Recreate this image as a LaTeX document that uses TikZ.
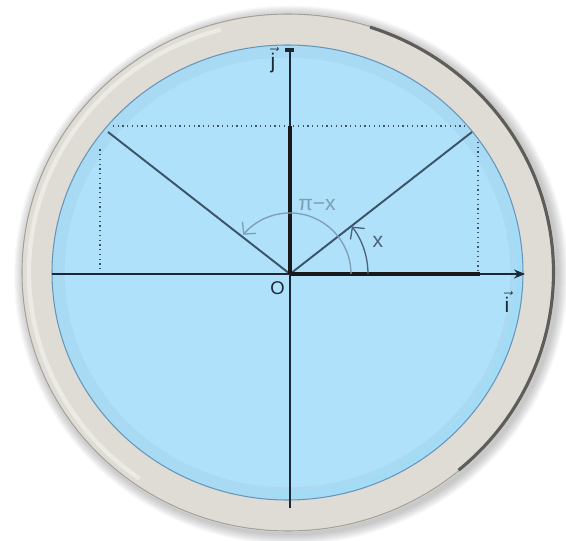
\documentclass[tikz,border=0pt]{standalone}
\usepackage{amsmath}
\usepackage{fontspec}
\setmainfont{Liberation Sans}
\usetikzlibrary{arrows.meta}
\definecolor{ringgray}{HTML}{DFDCD5}
\definecolor{rimdark}{HTML}{5E5D59}
\definecolor{rimline}{HTML}{A3A19B}
\definecolor{discblue}{HTML}{AFE1FA}
\definecolor{edgeblue}{HTML}{4F85AE}
\definecolor{axisnavy}{HTML}{1B2836}
\definecolor{radgray}{HTML}{3C5469}
\definecolor{arcdark}{HTML}{4A6378}
\definecolor{arclight}{HTML}{7F9DB5}

\begin{document}
\begin{tikzpicture}[x=0.02cm, y=0.02cm, font=\fontsize{12}{14}\selectfont,
  axis/.style={draw=axisnavy, line width=0.8pt},
  vect/.style={draw=black!90, line width=2.3pt},
  ray/.style={draw=radgray, line width=1.1pt},
  proj/.style={draw=radgray, line width=0.7pt, dotted},
  angarc/.style={line width=0.75pt, -{Straight Barb[length=1.7mm, width=3.6mm]}},
  lbl/.style={inner sep=0pt}]
\useasboundingbox (-290,-267) rectangle (276,274);
% bezel with its soft shadow
\foreach \k in {1,...,10} \fill[black, opacity=0.025] (1,-1) ellipse [x radius=267+\k, y radius=259.5+\k];
\fill[ringgray] (-2,1.5) ellipse [x radius=267, y radius=259.5];
\draw[rimline, line width=0.6pt] (-2,1.5) ellipse [x radius=266, y radius=258.5];
\draw[white, opacity=0.4, line width=2.5pt] (-2,1.5) ++(105:259 and 251.5) arc[start angle=105, end angle=235, x radius=259, y radius=251.5];
\draw[rimdark, line width=1.8pt] (-2,1.5) ++(-50:265.5 and 258) arc[start angle=-50, end angle=72, x radius=265.5, y radius=258];
% dial
\fill[discblue] (-2.5,1.5) ellipse [x radius=235.5, y radius=227.5];
\draw[edgeblue, opacity=0.07, line width=7pt] (-2.5,1.5) ellipse [x radius=229, y radius=221];
\draw[edgeblue, opacity=0.8, line width=0.6pt] (-2.5,1.5) ellipse [x radius=235.5, y radius=227.5];
\draw[white!60!cyan, opacity=0.8, line width=1.2pt] (-2.5,1.5) ++(-95:231 and 223) arc[start angle=-95, end angle=15, x radius=231, y radius=223];
% points
\coordinate (O) at (0,0);
\coordinate (xa) at (-238,0);
\coordinate (xb) at (235,0);
\coordinate (ya) at (0,-234);
\coordinate (yb) at (0,226);
\coordinate (I) at (190,0);
\coordinate (J) at (0,148);
\coordinate (P) at (182,142);
\coordinate (Q) at (-182,142);
% projections
\draw[proj] (-190,0) -- (-190,127);
\draw[proj] (-177,148) -- (175,148);
\draw[proj] (188,132) -- (188,0);
% axes and vectors
\draw[axis] (xa) -- (O);
\draw[axis, -{Stealth[length=2.2mm, width=1.8mm]}] (O) -- (xb);
\draw[axis, -{Rectangle[length=0.8mm, width=1.8mm]}] (ya) -- (yb);
\draw[ray] (O) -- (P);
\draw[ray] (O) -- (Q);
\draw[vect] (O) -- (I);
\draw[vect] (O) -- (J);
% angles
\draw[angarc, arclight] (61,0) arc[start angle=0, end angle=140, radius=61];
\draw[angarc, arcdark] (78,0) arc[start angle=0, end angle=37.5, radius=78];
\node[lbl, text=arclight] (pix) at (27,69) {π−x};
\node[lbl, text=arcdark] (xl) at (88,32) {x};
\node[lbl, text=axisnavy, font=\fontsize{10.5}{12}\selectfont] (o) at (-12.5,-14) {O};
\node[lbl, text=axisnavy] (il) at (217,-28) {$\vec{\text{i}}$};
\node[lbl, text=axisnavy] (jl) at (-17,214) {$\vec{\text{j}}$};
\end{tikzpicture}
\end{document}
